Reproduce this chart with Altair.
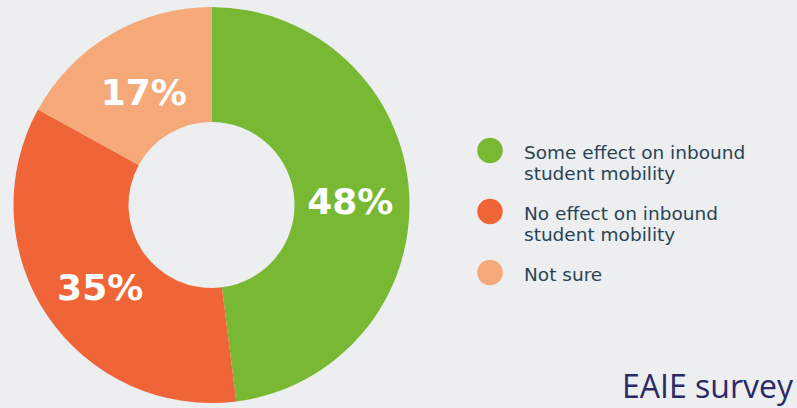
import altair as alt
import pandas as pd

categories = ["Some effect on inbound student mobility",
              "No effect on inbound student mobility",
              "Not sure"]
legend_lines = ["Some effect on inbound|student mobility",
                "No effect on inbound|student mobility",
                "Not sure"]
values = [48, 35, 17]
labels = ["48%", "35%", "17%"]
colors = ["#78B833", "#EF6537", "#F5A978"]

df = pd.DataFrame({
    "cat": categories,
    "legend": legend_lines,
    "value": values,
    "label": labels,
    "order": [0, 1, 2],
})

CX, CY = 211.5, 205

color_scale = alt.Scale(domain=categories, range=colors)

base = alt.Chart(df).encode(
    theta=alt.Theta("value:Q", stack=True),
    order=alt.Order("order:Q"),
    x=alt.value(CX),
    y=alt.value(CY),
)

arcs = base.mark_arc(outerRadius=198, innerRadius=83).encode(
    color=alt.Color("cat:N", scale=color_scale, legend=None)
)

pct = base.mark_text(radius=137, dx=2, dy=7, font="DejaVu Sans", fontWeight="bold",
                     fontSize=36, color="white", baseline="middle",
                     align="center").encode(text="label:N")

# legend built from the same data
leg_y = alt.Y("order:Q", scale=alt.Scale(domain=[0, 2], range=[150.5, 272.5]),
              axis=None)

leg_dots = alt.Chart(df).mark_circle(size=650, opacity=1).encode(
    x=alt.value(490),
    y=leg_y,
    color=alt.Color("cat:N", scale=color_scale, legend=None),
)

leg_text = alt.Chart(df).transform_calculate(
    lines="split(datum.legend, '|')"
).mark_text(
    align="left", baseline="top", dy=-6.8, lineHeight=21.5,
    font="DejaVu Sans", fontSize=18.5, color="#2A4455"
).encode(
    x=alt.value(524),
    y=leg_y,
    text="lines:N",
)

source = alt.Chart(pd.DataFrame({"t": ["EAIE survey"]})).mark_text(
    font="Open Sans", fontSize=32, color="#2B2966", align="right",
    baseline="alphabetic"
).encode(text="t:N", x=alt.value(793), y=alt.value(398))

chart = alt.layer(arcs, pct, leg_dots, leg_text, source).properties(
    width=797, height=408,
    autosize=alt.AutoSizeParams(type="none"),
    padding=0,
    background="#ECEEF0",
).configure_view(strokeWidth=0)

chart.save("out.html", embed_options={"renderer": "svg", "actions": False})
